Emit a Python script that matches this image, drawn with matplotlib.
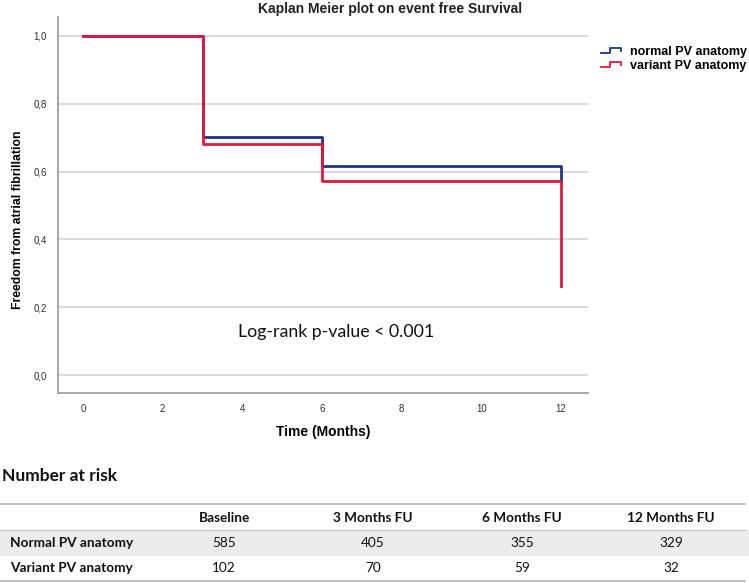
import matplotlib
matplotlib.use("Agg")
import matplotlib.pyplot as plt
from matplotlib.lines import Line2D
from matplotlib.legend_handler import HandlerBase

# ---- data ----
times = [0, 3, 6, 12]
normal_surv = [1.0, 0.702, 0.616, 0.575]
variant_surv = [1.0, 0.680, 0.572, 0.263]
series_labels = ["normal PV anatomy", "variant PV anatomy"]
x_ticks = [0, 2, 4, 6, 8, 10, 12]
y_ticks = [0.0, 0.2, 0.4, 0.6, 0.8, 1.0]
y_tick_labels = ["0,0", "0,2", "0,4", "0,6", "0,8", "1,0"]
risk_columns = ["Baseline", "3 Months FU", "6 Months FU", "12 Months FU"]
risk_rows = ["Normal PV anatomy", "Variant PV anatomy"]
risk_normal = [585, 405, 355, 329]
risk_variant = [102, 70, 59, 32]

W, H = 749, 583
fig = plt.figure(figsize=(W / 100, H / 100), dpi=100)

BLUE = "#1c3584"
RED = "#e3163f"
GRID = "#d4d4d4"
SPINE = "#a0a0a0"


class StepHandler(HandlerBase):
    def create_artists(self, legend, orig_handle, xdescent, ydescent,
                       width, height, fontsize, trans):
        x0 = -xdescent
        y0 = -ydescent
        xs = [x0, x0 + 0.45 * width, x0 + 0.45 * width, x0 + width, x0 + width]
        ys = [y0 + 0.15 * height, y0 + 0.15 * height, y0 + 0.85 * height,
              y0 + 0.85 * height, y0 + 0.45 * height]
        ln = Line2D(xs, ys, color=orig_handle.get_color(), lw=1.3,
                    transform=trans)
        return [ln]


ax = fig.add_axes([58 / W, 1 - 393 / H, (588 - 58) / W, (393 - 17) / H])
ax.set_xlim(-0.63, 12.68)
ax.set_ylim(-0.053, 1.056)
for s in ["top", "right"]:
    ax.spines[s].set_visible(False)
for s in ["left", "bottom"]:
    ax.spines[s].set_color(SPINE)
    ax.spines[s].set_linewidth(1.3)
ax.set_yticks(y_ticks)
ax.set_yticklabels(y_tick_labels)
ax.set_xticks(x_ticks)
ax.tick_params(length=0, labelsize=7, labelcolor="#333333", pad=8)
ax.tick_params(axis="x", pad=8)
for t in ax.get_xticklabels() + ax.get_yticklabels():
    t.set_family("Liberation Sans")
ax.yaxis.grid(True, color=GRID, linewidth=1.2)
ax.set_axisbelow(True)

ax.step(times, normal_surv, where="post", color=BLUE, linewidth=2.0, zorder=3)
ax.step(times, variant_surv, where="post", color=RED, linewidth=2.0, zorder=4)

ax.set_xlabel("Time (Months)", family="Liberation Sans", fontweight="bold",
              fontsize=10, labelpad=8)
ax.set_ylabel("Freedom from atrial fibrillation", family="Liberation Sans",
              fontweight="bold", fontsize=8.8, labelpad=7, y=0.46)

ax.text(3.88, 0.127, "Log-rank p-value < 0.001", family="Lato", fontsize=12.8,
        va="center", ha="left", color="#111111")

fig.text(390 / W, 1 - 9 / H, "Kaplan Meier plot on event free Survival",
         family="Liberation Sans", fontweight="bold", fontsize=10,
         ha="center", va="center", color="#222222")

# legend
handles = [Line2D([], [], color=BLUE), Line2D([], [], color=RED)]
leg = fig.legend(handles, series_labels, loc="upper left",
                 bbox_to_anchor=(601 / W, 1 - 46 / H), frameon=False,
                 prop={"family": "Liberation Sans", "weight": "bold", "size": 9},
                 handlelength=1.6, handleheight=0.6, handletextpad=0.7,
                 labelspacing=0.15, borderpad=0, borderaxespad=0,
                 handler_map={Line2D: StepHandler()})

# ---- number at risk table ----
tax = fig.add_axes([0, 0, 1, 1], zorder=-1)
tax.set_xlim(0, W)
tax.set_ylim(H, 0)
tax.axis("off")
tax.text(2, 476, "Number at risk", family="Lato", fontweight="bold",
         fontsize=12.5, va="center", ha="left", color="#111111")
tax.axhspan(530, 556, color="#ececec", lw=0)
tax.plot([0, 745], [504, 504], color="#b4b4b4", lw=1.2)
tax.plot([0, 745], [530, 530], color="#c8c8c8", lw=0.8)
tax.plot([0, 745], [581, 581], color="#b4b4b4", lw=1.2)
col_x = [224, 373, 522, 671]
for cx, lab in zip(col_x, risk_columns):
    tax.text(cx, 518, lab, family="Lato", fontweight="bold", fontsize=9.8,
             ha="center", va="center", color="#111111")
row_y = [543, 568]
for ry, lab, vals in zip(row_y, risk_rows, [risk_normal, risk_variant]):
    tax.text(10, ry, lab, family="Lato", fontweight="bold", fontsize=9.8,
             ha="left", va="center", color="#111111")
    for cx, v in zip(col_x, vals):
        tax.text(cx, ry, str(v), family="Lato", fontsize=9.8,
                 ha="center", va="center", color="#111111")

fig.savefig("out.png", dpi=100)
